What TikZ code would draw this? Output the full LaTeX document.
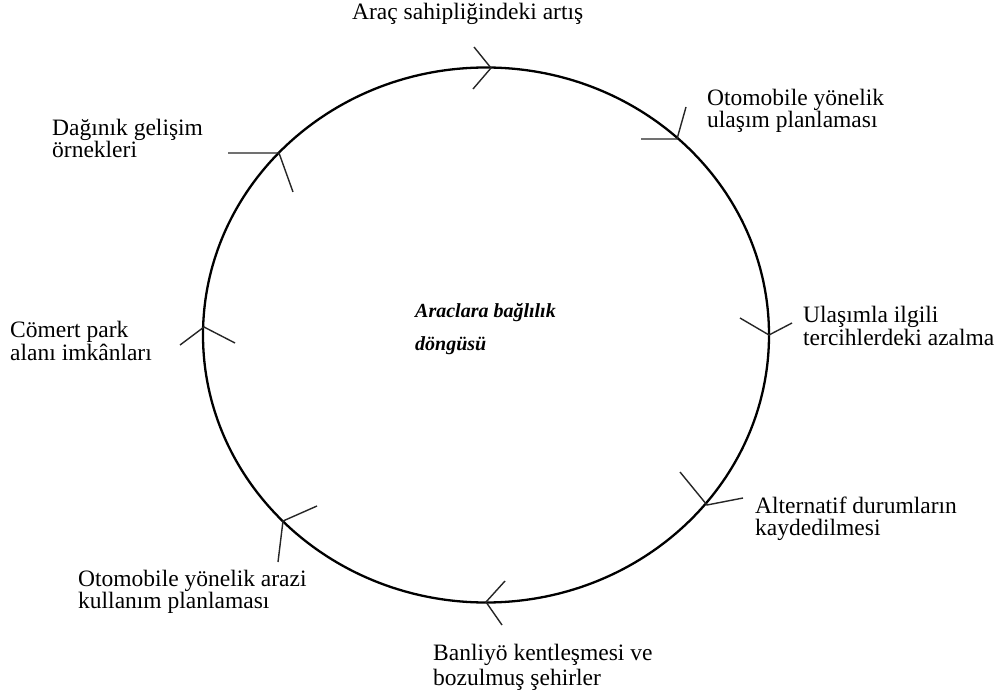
\documentclass[tikz,border=0pt]{standalone}
\usepackage{fontspec}
\setmainfont{Liberation Serif}
\begin{document}
\begin{tikzpicture}[x=1pt,y=-1pt,
  lbl/.style={anchor=base west, inner sep=0pt, align=left, font=\fontsize{23.5}{22}\selectfont},
  ring/.style={line width=2.3pt, draw=black},
  chev/.style={line width=1.4pt, draw=black!85}]
\useasboundingbox[fill=white] (0,0) rectangle (1001,700);
% the cycle
\draw[ring] (486,335) ellipse [x radius=283, y radius=267.5];
% chevron apexes on the ring and arm ends
\coordinate (a1) at (491,68);  \coordinate (a1p) at (474,47);  \coordinate (a1q) at (473,89);
\coordinate (a2) at (677,139); \coordinate (a2p) at (641,139); \coordinate (a2q) at (686,107);
\coordinate (a3) at (279,153); \coordinate (a3p) at (228,153); \coordinate (a3q) at (293,192);
\coordinate (a4) at (769,335); \coordinate (a4p) at (740,318); \coordinate (a4q) at (792,323);
\coordinate (a5) at (707,505); \coordinate (a5p) at (680,472); \coordinate (a5q) at (743,498);
\coordinate (a6) at (486,602); \coordinate (a6p) at (505,581); \coordinate (a6q) at (502,625);
\coordinate (a7) at (283,521); \coordinate (a7p) at (317,506); \coordinate (a7q) at (278,562);
\coordinate (a8) at (204,327); \coordinate (a8p) at (180,345); \coordinate (a8q) at (235,343);
\foreach \i in {1,...,8}{\draw[chev] (a\i p) -- (a\i) -- (a\i q);}
% labels (anchor = baseline of the last line)
\node[lbl] (t1) at (352,20) {Araç sahipliğindeki artış};
\node[lbl] (t2) at (707,128) {Otomobile yönelik\\ulaşım planlaması};
\node[lbl] (t3) at (52,158) {Dağınık gelişim\\örnekleri};
\node[lbl] (t4) at (803,345) {Ulaşımla ilgili\\tercihlerdeki azalma};
\node[lbl] (t5) at (10,360) {Cömert park\\alanı imkânları};
\node[lbl] (t6) at (755,535) {Alternatif durumların\\kaydedilmesi};
\node[lbl] (t7) at (78,608) {Otomobile yönelik arazi\\kullanım planlaması};
\node[lbl, font=\fontsize{23.5}{25}\selectfont] (t8) at (433,685) {Banliyö kentleşmesi ve\\bozulmuş şehirler};
\node[lbl, font=\fontsize{20}{33}\selectfont\bfseries\itshape] (c) at (415,351) {Araclara bağlılık\\döngüsü};
\end{tikzpicture}
\end{document}
